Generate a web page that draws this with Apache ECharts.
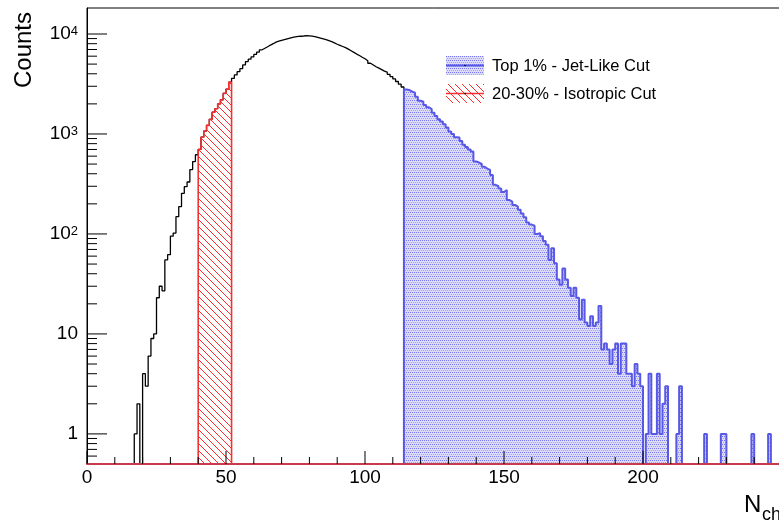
<!DOCTYPE html>
<html><head><meta charset="utf-8">
<script src="https://cdn.jsdelivr.net/npm/echarts@6/dist/echarts.min.js"></script>
<style>html,body{margin:0;padding:0;background:#fff}#c{width:779px;height:524px}</style>
</head><body><div id="c"></div>
<script>
// ---- axis ranges & ticks ----
const X_MIN = 0, X_MAX = 250, Y_MIN = 0.5, Y_MAX = 18200;
const xMajorTicks = [0, 50, 100, 150, 200, 250];
const xMinorTicks = [10,20,30,40,60,70,80,90,110,120,130,140,160,170,180,190,210,220,230,240];
const yMajorTicks = [1, 10, 100, 1000, 10000];
const yMinorTicks = [0.6,0.7,0.8,0.9,2,3,4,5,6,7,8,9,20,30,40,50,60,70,80,90,200,300,400,500,600,700,800,900,2000,3000,4000,5000,6000,7000,8000,9000];

// ---- histogram data (bin width 1) ----
const allStart = 0;   // full N_ch distribution, bins 0..113 shown in black
const allCounts = [
0,0,0,0,0,0,0,0,0,0,
0,0,0,0,0,0,0,1,2,0,
4,3,6,9,10,23,30,27,55,62,
95,102,149,188,255,297,331,440,530,620,
700,930,1070,1220,1400,1650,1790,2000,2200,2550,
2800,3300,3600,3900,4200,4500,4900,5300,5600,5900,
6250,6600,6950,7200,7450,7750,8000,8300,8500,8650,
8800,8950,9100,9250,9350,9450,9500,9550,9620,9560,
9500,9400,9250,9100,8950,8800,8600,8400,8150,7900,
7700,7500,7300,7050,6800,6550,6300,6100,5850,5650,
5400,5100,4900,4700,4550,4400,4250,4150,3950,3750,
3550,3350,3150,2950];

const jetStart = 114; // Top 1% - Jet-Like Cut
const jetCounts = [
2790,2750,2650,2590,2360,2150,2100,1950,1850,1770,
1630,1510,1400,1330,1250,1160,1060,1000,930,920,
850,780,740,700,667,530,518,501,470,450,
437,389,310,300,285,263,275,218,210,195,
188,175,160,147,130,124,121,100,102,95,
85,78,55,72,
51,35,31,45,35,29,24,29,23,14,
22,13,12,15,12,13,19,7,8,7,
5,7,8,4,8,8,4,4,3,5,
4,3,0,1,4,1,1,4,1,2,
3,0,0,0,1,3,0,0,0,0,
0,0,0,0,1,0,0,0,0,0,
1,1,0,0,0,0,0,0,0,0,
0,1,0,0,0,0,0,1,0,0,
0,0];

const isoStart = 40;  // 20-30% - Isotropic Cut
const isoCounts = [700,930,1070,1220,1400,1650,1790,2000,2200,2550,2800,3300];

const legendLabels = ['Top 1% - Jet-Like Cut', '20-30% - Isotropic Cut'];

// ---- helpers ----
const FONT = "'Liberation Sans', Arial, Helvetica, sans-serif";
function histData(start, counts) {
  const d = [[start, Y_MIN]];
  counts.forEach((c, i) => d.push([start + i, c > 0 ? c : Y_MIN]));
  const end = start + counts.length;
  const last = counts[counts.length - 1];
  d.push([end, last > 0 ? last : Y_MIN]);
  d.push([end, Y_MIN]);
  return d;
}
function dotPattern() {
  const c = document.createElement('canvas'); c.width = 4; c.height = 4;
  const g = c.getContext('2d');
  g.fillStyle = '#dcdcfa'; g.fillRect(0, 0, 4, 4);
  g.fillStyle = '#7676ee'; g.fillRect(0, 0, 1, 1); g.fillRect(2, 0, 1, 1);
  g.fillStyle = '#a4a4f4'; g.fillRect(1, 2, 1, 1); g.fillRect(3, 2, 1, 1);
  return c;
}
function hatchPattern() {
  const s = 7;
  const c = document.createElement('canvas'); c.width = s; c.height = s;
  const g = c.getContext('2d');
  g.strokeStyle = '#ff2a2a'; g.lineWidth = 1;
  g.beginPath();
  g.moveTo(-1, -1); g.lineTo(s + 1, s + 1);
  g.moveTo(-1, s - 1); g.lineTo(1, s + 1);
  g.moveTo(s - 1, -1); g.lineTo(s + 1, 1);
  g.stroke();
  return c;
}
const dots = { image: dotPattern(), repeat: 'repeat' };
const hatch = { image: hatchPattern(), repeat: 'repeat' };

function tickSeries(data, horizontal, len) {
  return {
    type: 'custom', silent: true, z: 12, data: data,
    renderItem: (p, api) => {
      const pt = api.coord([api.value(0), api.value(1)]);
      const shape = horizontal
        ? { x1: pt[0], y1: pt[1], x2: pt[0] + len, y2: pt[1] }
        : { x1: pt[0], y1: pt[1], x2: pt[0], y2: pt[1] - len };
      return { type: 'line', shape: shape, style: { stroke: '#000', lineWidth: 1 } };
    }
  };
}

const chart = echarts.init(document.getElementById('c'), null, { renderer: 'canvas' });
chart.setOption({
  animation: false,
  backgroundColor: '#fff',
  grid: { left: 87, top: 8, width: 695, height: 456, show: true, borderColor: '#000', borderWidth: 1, backgroundColor: 'transparent', containLabel: false, outerBoundsMode: 'none' },
  xAxis: {
    type: 'value', min: X_MIN, max: X_MAX, interval: 50, z: 10,
    axisLine: { show: true, lineStyle: { color: '#c83a4e', width: 2 } },
    axisTick: { show: false }, splitLine: { show: false },
    axisLabel: { margin: 4, fontSize: 19, color: '#000', fontFamily: FONT,
      formatter: v => (xMajorTicks.indexOf(v) >= 0 && v < X_MAX) ? String(v) : '' }
  },
  yAxis: {
    type: 'log', logBase: 10, min: Y_MIN, max: Y_MAX,
    axisLine: { show: true, lineStyle: { color: '#000', width: 1 } },
    axisTick: { show: false }, splitLine: { show: false }, minorTick: { show: false },
    axisLabel: {
      margin: 9, color: '#000', fontFamily: FONT, fontSize: 19,
      formatter: v => {
        const l = Math.log10(v), e = Math.round(l);
        if (Math.abs(l - e) > 1e-6 || yMajorTicks.indexOf(Math.pow(10, e)) < 0) return '';
        if (e === 0) return '{b|1}';
        if (e === 1) return '{b|10}';
        return '{b|10}{s|' + e + '}';
      },
      rich: {
        b: { fontSize: 19, fontFamily: FONT, color: '#000', verticalAlign: 'top' },
        s: { fontSize: 13, fontFamily: FONT, color: '#000', verticalAlign: 'top' }
      }
    }
  },
  series: [
    { type: 'line', step: 'end', symbol: 'none', z: 3, data: histData(allStart, allCounts),
      lineStyle: { color: '#000', width: 1.3 } },
    { type: 'line', step: 'end', symbol: 'none', z: 4, data: histData(isoStart, isoCounts),
      lineStyle: { color: '#f23232', width: 1.6 },
      areaStyle: { color: hatch, opacity: 1, origin: 'start' } },
    { type: 'line', step: 'end', symbol: 'none', z: 5, data: histData(jetStart, jetCounts),
      lineStyle: { color: '#5858e6', width: 2 },
      areaStyle: { color: dots, opacity: 1, origin: 'start' } },
    tickSeries(yMajorTicks.map(v => [X_MIN, v]), true, 20),
    tickSeries(yMinorTicks.map(v => [X_MIN, v]), true, 10),
    tickSeries(xMajorTicks.map(v => [v, Y_MIN]), false, 13),
    tickSeries(xMinorTicks.map(v => [v, Y_MIN]), false, 7)
  ],
  graphic: [
    { type: 'text', x: 24, y: 50, rotation: Math.PI / 2, z: 20,
      style: { text: 'Counts', fontSize: 24, fontFamily: FONT, fill: '#000', align: 'center', verticalAlign: 'middle' } },
    { type: 'text', x: 744, y: 505, z: 20,
      style: { text: 'N', fontSize: 24, fontFamily: FONT, fill: '#000', align: 'left', verticalAlign: 'middle' } },
    { type: 'text', x: 762, y: 515, z: 20,
      style: { text: 'ch', fontSize: 18, fontFamily: FONT, fill: '#000', align: 'left', verticalAlign: 'middle' } },
    // legend
    { type: 'rect', z: 20, shape: { x: 446, y: 56, width: 38, height: 19 }, style: { fill: dots, stroke: null } },
    { type: 'line', z: 21, shape: { x1: 446, y1: 65.5, x2: 484, y2: 65.5 }, style: { stroke: '#5858e6', lineWidth: 2 } },
    { type: 'circle', z: 22, shape: { cx: 465, cy: 65.5, r: 0.8 }, style: { fill: '#000' } },
    { type: 'text', x: 492, y: 66.5, z: 20,
      style: { text: legendLabels[0], fontSize: 16.5, fontFamily: FONT, fill: '#000', align: 'left', verticalAlign: 'middle' } },
    { type: 'rect', z: 20, shape: { x: 446, y: 84, width: 38, height: 19 }, style: { fill: hatch, stroke: null } },
    { type: 'line', z: 21, shape: { x1: 446, y1: 93.5, x2: 484, y2: 93.5 }, style: { stroke: '#f23232', lineWidth: 1.5 } },
    { type: 'circle', z: 22, shape: { cx: 465, cy: 93.5, r: 0.8 }, style: { fill: '#000' } },
    { type: 'text', x: 492, y: 94, z: 20,
      style: { text: legendLabels[1], fontSize: 16.5, fontFamily: FONT, fill: '#000', align: 'left', verticalAlign: 'middle' } }
  ]
});
</script>
</body></html>
